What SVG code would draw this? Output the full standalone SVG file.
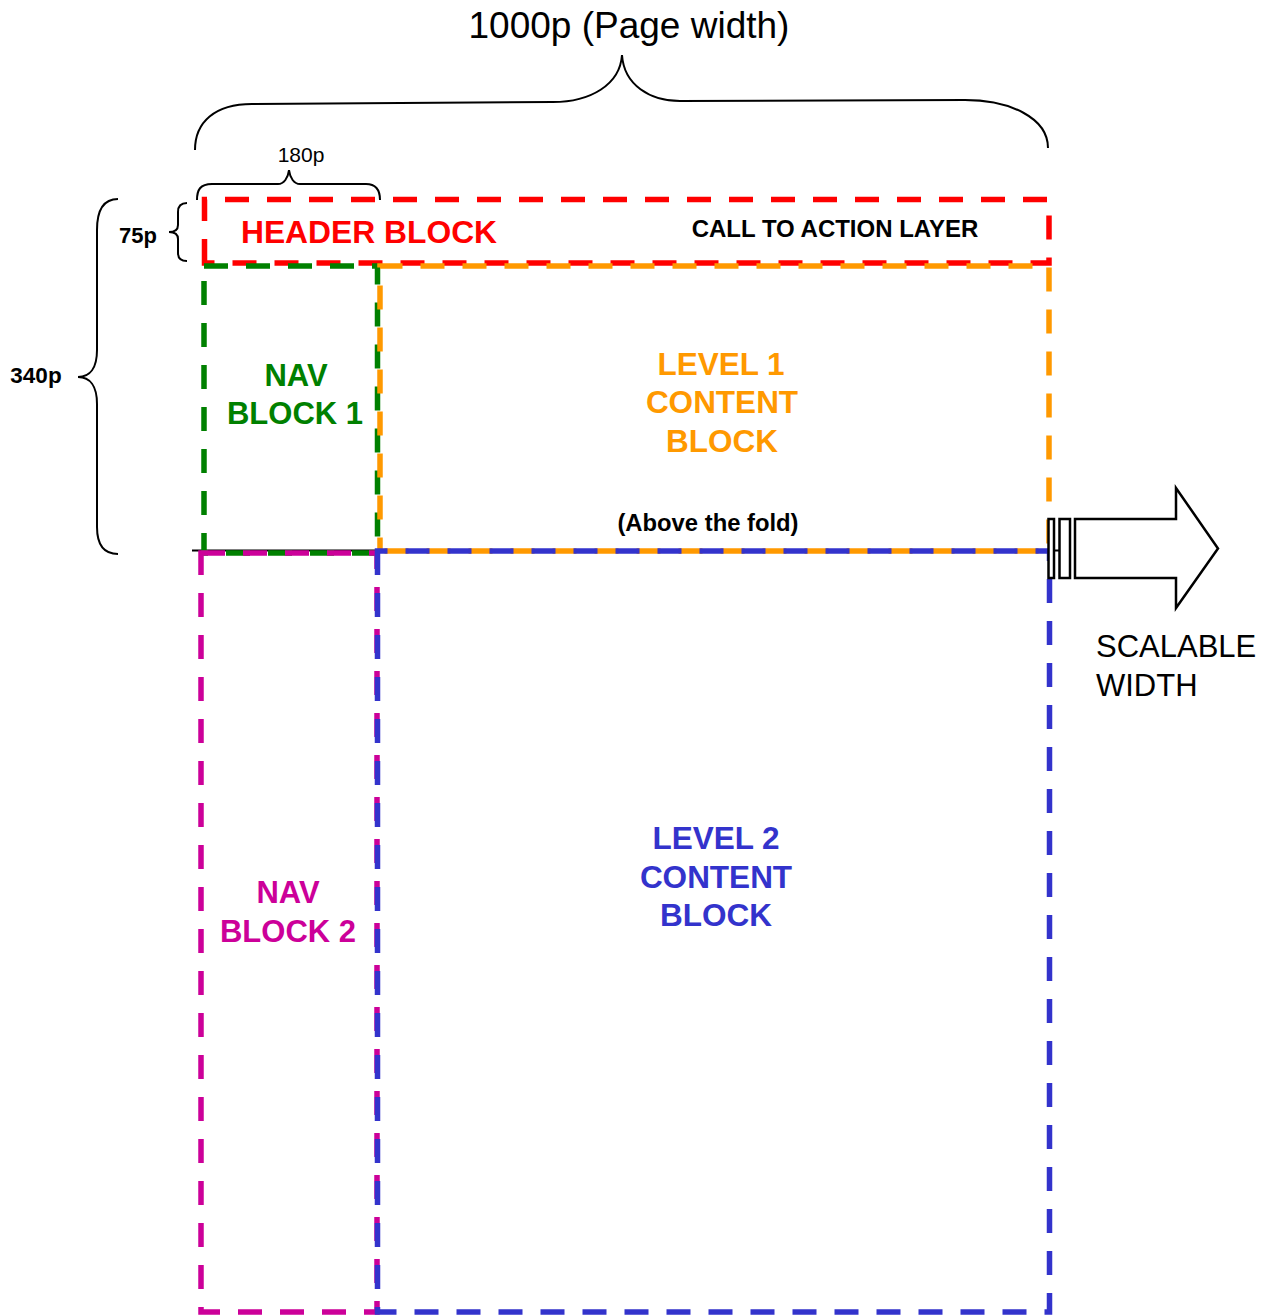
<svg xmlns="http://www.w3.org/2000/svg" width="1273" height="1315" viewBox="0 0 1273 1315">
  <style>
    .box { fill: none; stroke-width: 5.5; stroke-dasharray: 24 18; }
    .brace { fill: none; stroke: #000; stroke-width: 2; }
    .lbl { font-family: "Liberation Sans", Arial, sans-serif; font-weight: bold; text-anchor: middle; }
    .dim { font-family: "Liberation Sans", Arial, sans-serif; fill: #000; }
  </style>
  <rect width="1273" height="1315" fill="#fff"/>

  <!-- Dimension braces -->
  <g id="dimensions">
    <path class="brace" d="M195,150 C195,122 215,104 252,104 L553,102 C590,102 620,85 622,55 C624,85 650,101 680,101 L965,100 C1010,100 1048,118 1048,148"/>
    <text class="dim" x="629" y="38" font-size="37" text-anchor="middle">1000p (Page width)</text>
    <path class="brace" d="M197,200 C197,190 200,184 212,184 L278,184 C284,184 288,178 289,170 C290,178 294,184 300,184 L366,184 C376,184 380,190 380,200"/>
    <text class="dim" x="301" y="162" font-size="21" text-anchor="middle">180p</text>
    <path class="brace" d="M187,203 C181,203 178,206 178,212 L178,225 C178,230 174,232 169,232 C174,232 178,234 178,239 L178,253 C178,258 181,261 187,261"/>
    <text class="dim" x="138" y="243" font-size="22" font-weight="bold" text-anchor="middle">75p</text>
    <path class="brace" d="M118,199 C104,199 97,210 97,230 L97,350 C97,368 90,377 78,377 C90,377 97,386 97,404 L97,527 C97,545 104,554 118,554"/>
    <text class="dim" x="36" y="383" font-size="22.5" font-weight="bold" text-anchor="middle">340p</text>
  </g>

  <!-- Fold line -->
  <g id="connectors">
    <line x1="192" y1="550.5" x2="1060" y2="550.5" stroke="#000" stroke-width="2"/>
  </g>

  <!-- Header block -->
  <g id="header-block">
    <path class="box" stroke="#FF0000" d="M204.5,263 V199.5 H1049 V263 Z"/>
    <text class="lbl" x="369" y="243" font-size="31.8" fill="#FF0000">HEADER BLOCK</text>
    <text class="lbl" x="835" y="237" font-size="24" fill="#000">CALL TO ACTION LAYER</text>
  </g>

  <!-- Nav block 1 -->
  <g id="nav-block-1">
    <path class="box" stroke="#008000" d="M204,266 H377.5 V553 H204 Z"/>
    <text class="lbl" x="296" y="386" font-size="31" fill="#008000">NAV</text>
    <text class="lbl" x="295" y="424" font-size="31" fill="#008000">BLOCK 1</text>
  </g>

  <!-- Level 1 content block (bottom edge dashed out of phase with level 2's top edge) -->
  <g id="level-1-content">
    <path class="box" stroke="#FF9900" stroke-dashoffset="37.5" d="M380,551 H1049 V266 H380 Z"/>
    <text class="lbl" x="721" y="375" font-size="31.5" fill="#FF9900">LEVEL 1</text>
    <text class="lbl" x="722" y="413" font-size="31.5" fill="#FF9900">CONTENT</text>
    <text class="lbl" x="722" y="452" font-size="31.5" fill="#FF9900">BLOCK</text>
    <text class="lbl" x="708" y="531" font-size="23.8" fill="#000">(Above the fold)</text>
  </g>

  <!-- Nav block 2 -->
  <g id="nav-block-2">
    <path class="box" stroke="#CC0099" d="M201,553 H377 V1312 H201 Z"/>
    <text class="lbl" x="288" y="903" font-size="31" fill="#CC0099">NAV</text>
    <text class="lbl" x="288" y="942" font-size="31" fill="#CC0099">BLOCK 2</text>
  </g>

  <!-- Level 2 content block -->
  <g id="level-2-content">
    <path class="box" stroke="#3333CC" d="M377.5,551 V1312 H1049.5 V551 Z"/>
    <text class="lbl" x="716" y="849" font-size="31.5" fill="#3333CC">LEVEL 2</text>
    <text class="lbl" x="716" y="888" font-size="31.5" fill="#3333CC">CONTENT</text>
    <text class="lbl" x="716" y="926" font-size="31.5" fill="#3333CC">BLOCK</text>
  </g>

  <!-- Scalable width arrow -->
  <g id="scalable-arrow" fill="#fff" stroke="#000" stroke-width="2.5">
    <rect x="1048.5" y="519" width="5.5" height="59"/>
    <rect x="1059.5" y="519" width="10.5" height="59"/>
    <path d="M1075,519 H1176 V488 L1218,548.5 L1176,608 V578 H1075 Z"/>
    <text x="1096" y="657" font-size="31" stroke="none" fill="#000" font-family="Liberation Sans, Arial, sans-serif">SCALABLE</text>
    <text x="1096" y="696" font-size="31" stroke="none" fill="#000" font-family="Liberation Sans, Arial, sans-serif">WIDTH</text>
  </g>
</svg>
